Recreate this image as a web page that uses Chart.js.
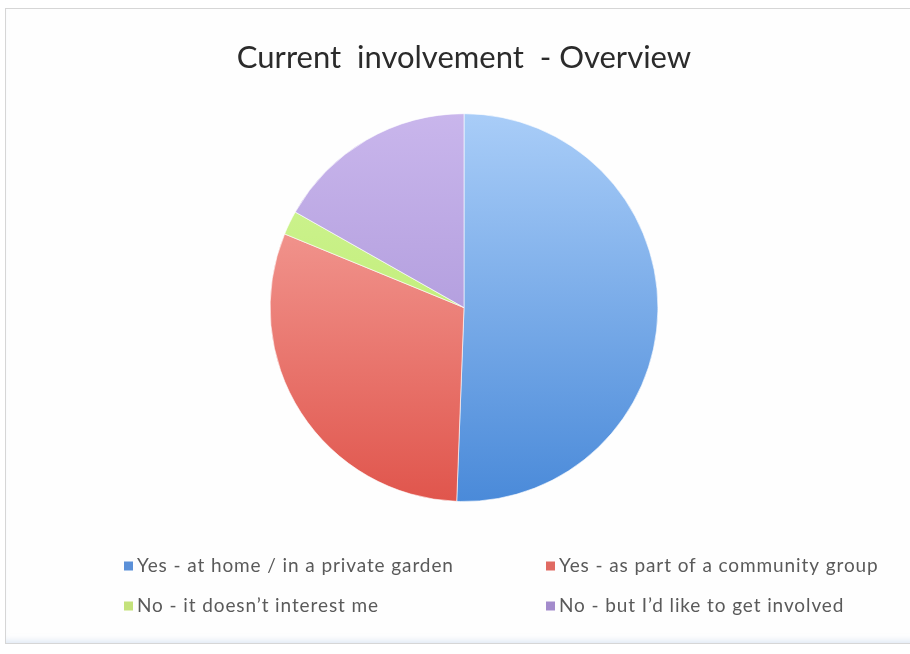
<!DOCTYPE html>
<html>
<head>
<meta charset="utf-8">
<script src="https://cdn.jsdelivr.net/npm/chart.js@4"></script>
<style>
  html, body { margin: 0; padding: 0; background: #ffffff; }
  #frame {
    position: absolute; left: 5px; top: 8px; width: 920px; height: 636px;
    border: 1px solid #d6d6d6; box-sizing: border-box; background: #fefefe;
    box-shadow: inset 0 -6px 6px -4px rgba(190,210,235,0.5);
  }
  #wrap { position: absolute; left: 0; top: 0; width: 910px; height: 654px; }
</style>
</head>
<body>
<div id="frame"></div>
<div id="wrap"><canvas id="c" width="910" height="654"></canvas></div>
<script>
// Share of respondents (%) by current involvement
const categories = [
  'Yes - at home / in a private garden',
  'Yes - as part of a community group',
  'No - it doesn\u2019t interest me',
  'No - but I\u2019d like to get involved'
];
const shares = [50.6, 30.6, 2.0, 16.8];
const chartTitle = 'Current  involvement  - Overview';

// light / dark stops of each slice's vertical gradient, and legend swatches
const lightStops = ['#a9cdf8', '#f8aea8', '#d2f59a', '#c9b6ec'];
const darkStops  = ['#4a8ad9', '#e0554c', '#b5e860', '#a08ad2'];
const swatches   = ['#5b90d8', '#e06a62', '#c4e27b', '#a38bcc'];

function sliceFill(ctx) {
  const chart = ctx.chart;
  const area = chart.chartArea;
  if (!area) return lightStops[ctx.dataIndex];
  const g = chart.ctx.createLinearGradient(0, area.top, 0, area.bottom);
  g.addColorStop(0, lightStops[ctx.dataIndex]);
  g.addColorStop(1, darkStops[ctx.dataIndex]);
  return g;
}

// Two-column legend drawn underneath the pie
const gridLegend = {
  id: 'gridLegend',
  afterDraw(chart, args, opts) {
    const ctx = chart.ctx;
    ctx.save();
    ctx.font = opts.font;
    ctx.textBaseline = 'middle';
    chart.data.labels.forEach((label, i) => {
      const col = i % 2, row = Math.floor(i / 2);
      const x = opts.columns[col];
      const y = opts.rows[row];
      ctx.letterSpacing = '0px';
      ctx.fillStyle = swatches[i];
      ctx.fillRect(x, y - opts.box / 2, opts.box, opts.box);
      ctx.letterSpacing = opts.spacing;
      ctx.fillStyle = opts.color;
      ctx.fillText(label, x + opts.box + opts.gap, y);
    });
    ctx.restore();
  }
};

new Chart(document.getElementById('c'), {
  type: 'pie',
  data: {
    labels: categories,
    datasets: [{
      data: shares,
      backgroundColor: sliceFill,
      borderColor: 'rgba(255,255,255,0.6)',
      borderWidth: 1
    }]
  },
  options: {
    responsive: false,
    animation: false,
    layout: { padding: { top: 0, left: 18, right: 0, bottom: 152 } },
    plugins: {
      legend: { display: false },
      tooltip: { enabled: false },
      title: {
        display: true,
        text: chartTitle,
        color: '#2b2b2b',
        font: { family: 'Lato', size: 31, weight: 'normal' },
        padding: { top: 39, bottom: 37 }
      },
      gridLegend: {
        columns: [124, 546],
        rows: [566, 606],
        box: 9,
        gap: 4,
        font: '19px Lato',
        spacing: '0.9px',
        color: '#5a5a5a'
      }
    }
  },
  plugins: [gridLegend]
});
</script>
</body>
</html>
